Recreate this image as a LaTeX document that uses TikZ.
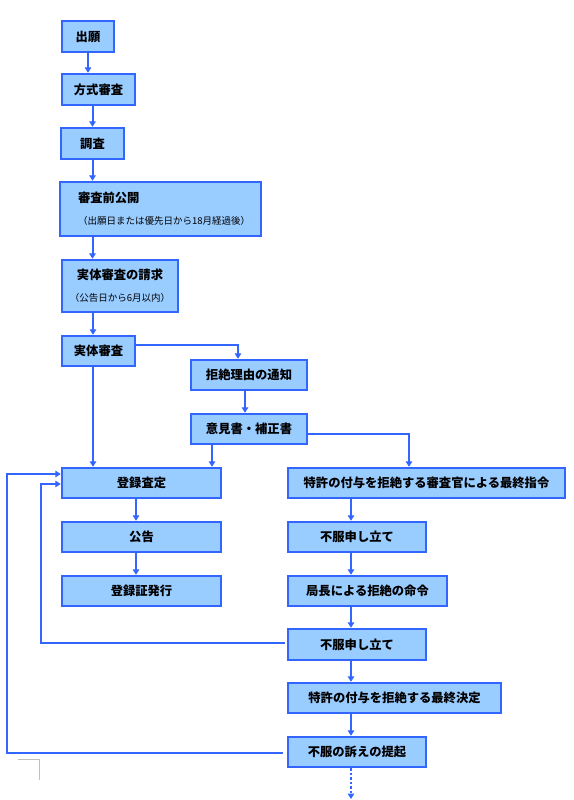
\documentclass[tikz,border=0pt]{standalone}
\usepackage{fontspec}
\setmainfont{Noto Sans CJK JP}
\usetikzlibrary{arrows.meta}
\definecolor{bl}{HTML}{3366FF}
\definecolor{fillb}{HTML}{99CCFF}
\begin{document}
\begin{tikzpicture}[x=1pt,y=-1pt,
  box/.style={draw=bl, fill=fillb, line width=2.4pt, inner sep=0pt, text=black,
    font=\fontsize{12.3}{22}\selectfont\bfseries},
  arr/.style={draw=bl, line width=2pt, -{Triangle[width=6.5pt,length=5.5pt]}},
  dotarr/.style={arr, dash pattern=on 2.5pt off 2pt},
  ln/.style={draw=bl, line width=2pt}]
\fill[white] (0,0) rectangle (573,800);
\useasboundingbox (0,0) rectangle (573,800);
% nodes
\node[box, minimum width=52pt, minimum height=31pt] (gan) at (88,36.5) {出願};
\node[box, minimum width=73pt, minimum height=31pt] (hoshiki) at (98.5,89.5) {方式審査};
\node[box, minimum width=63pt, minimum height=31pt] (chosa) at (92.5,143.5) {調査};
\node[box, minimum width=201pt, minimum height=54pt, text width=165pt, inner xsep=18pt, align=left] (kokai) at (160.5,209)
  {審査前公開\\{\fontsize{9.5}{22}\selectfont\mdseries （出願日または優先日から18月経過後）}};
\node[box, minimum width=116pt, minimum height=52pt, align=center] (seikyu) at (120,286)
  {実体審査の請求\\{\fontsize{9.5}{22}\selectfont\mdseries （公告日から6月以内）}};
\node[box, minimum width=73pt, minimum height=30pt] (jittai) at (98.5,351) {実体審査};
\node[box, minimum width=116pt, minimum height=30pt] (kyozetsu) at (249,375) {拒絶理由の通知};
\node[box, minimum width=116pt, minimum height=30pt] (iken) at (249,429) {意見書・補正書};
\node[box, minimum width=159pt, minimum height=30pt] (toroku) at (141.5,483) {登録査定};
\node[box, minimum width=159pt, minimum height=30pt] (kokoku) at (141.5,537) {公告};
\node[box, minimum width=159pt, minimum height=30pt] (shosho) at (141.5,591) {登録証発行};
\node[box, minimum width=277pt, minimum height=30pt] (shirei) at (426.5,483) {特許の付与を拒絶する審査官による最終指令};
\node[box, minimum width=138pt, minimum height=30pt] (fufuku1) at (357,537) {不服申し立て};
\node[box, minimum width=159pt, minimum height=30pt] (meirei) at (367.5,591) {局長による拒絶の命令};
\node[box, minimum width=138pt, minimum height=31pt] (fufuku2) at (357,644.5) {不服申し立て};
\node[box, minimum width=213pt, minimum height=30pt] (kettei) at (394.5,698) {特許の付与を拒絶する最終決定};
\node[box, minimum width=138pt, minimum height=30pt] (uttae) at (357,752) {不服の訴えの提起};
% helper coordinates
\coordinate (c93) at (93,0);
\coordinate (c136) at (136,0);
\coordinate (c351) at (351,0);
\coordinate (c41) at (41,0);
\coordinate (c7) at (7,0);
\coordinate (c212) at ([xshift=-37pt]iken.south);
\coordinate (dend) at (351,799);
% connectors
\draw[arr] (gan.south) -- (gan.south |- hoshiki.north);
\draw[arr] (chosa.north |- hoshiki.south) -- (chosa.north);
\draw[arr] (chosa.south) -- (chosa.south |- kokai.north);
\draw[arr] (chosa.south |- kokai.south) -- (chosa.south |- seikyu.north);
\draw[arr] (seikyu.south -| c93) -- (jittai.north -| c93);
\draw[arr] ([yshift=6pt]jittai.east) -| ([xshift=-11pt]kyozetsu.north);
\draw[arr] ([xshift=-4pt]kyozetsu.south) -- ([xshift=-4pt]iken.north);
\draw[arr] ([yshift=-5pt]iken.east) -| ([xshift=-17.5pt]shirei.north);
\draw[arr] (c212) -- (c212 |- toroku.north);
\draw[arr] (jittai.south -| c93) -- (toroku.north -| c93);
\draw[arr] (toroku.south -| c136) -- (kokoku.north -| c136);
\draw[arr] (kokoku.south -| c136) -- (shosho.north -| c136);
\draw[arr] (shirei.south -| c351) -- (fufuku1.north -| c351);
\draw[arr] (fufuku1.south -| c351) -- (meirei.north -| c351);
\draw[arr] (meirei.south -| c351) -- (fufuku2.north -| c351);
\draw[arr] (fufuku2.south -| c351) -- (kettei.north -| c351);
\draw[arr] (kettei.south -| c351) -- (uttae.north -| c351);
\draw[dotarr] (uttae.south -| c351) -- (dend);
\draw[arr] ([xshift=-2pt,yshift=1.5pt]fufuku2.west) -- ([yshift=1.5pt]fufuku2.west -| c41)
  -- ([yshift=-1pt]toroku.west -| c41) -- ([yshift=-1pt]toroku.west);
\draw[arr] ([xshift=-4pt,yshift=-1pt]uttae.west) -- ([yshift=-1pt]uttae.west -| c7)
  -- ([yshift=9pt]toroku.west -| c7) -- ([yshift=9pt]toroku.west);
% crop mark
\draw[black!25, line width=1pt] (18,759) -- (39,759) -- (39,780);
\end{tikzpicture}
\end{document}
